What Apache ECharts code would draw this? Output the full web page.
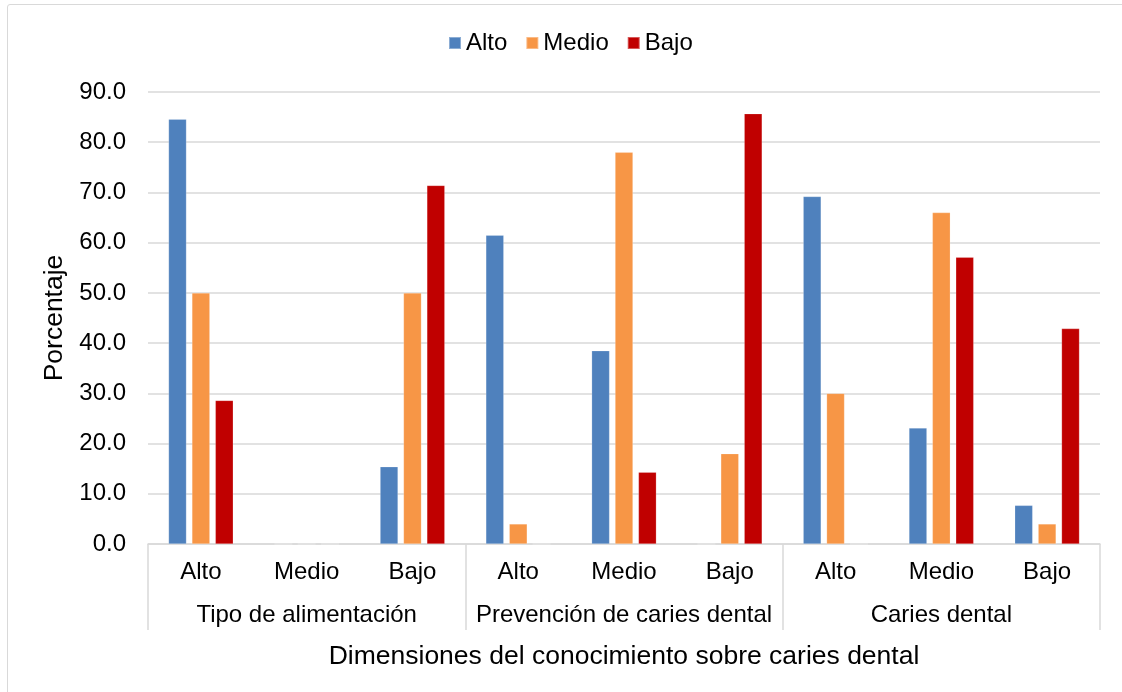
<!DOCTYPE html>
<html>
<head>
<meta charset="utf-8">
<script src="https://cdn.jsdelivr.net/npm/echarts@6/dist/echarts.min.js"></script>
<style>
  html, body { margin: 0; padding: 0; background: #ffffff; }
  #frame {
    position: absolute; left: 7px; top: 4px; width: 1130px; height: 700px;
    border: 1.5px solid #d9d9d9; border-radius: 3px; box-sizing: border-box;
  }
  #chart { position: absolute; left: 0; top: 0; width: 1122px; height: 692px; }
</style>
</head>
<body>
<div id="frame"></div>
<div id="chart"></div>
<script>
// Knowledge level (sub-category) inside each dimension
const levels = ['Alto', 'Medio', 'Bajo'];
// Dimensions of knowledge about dental caries
const dimensions = ['Tipo de alimentación', 'Prevención de caries dental', 'Caries dental'];
// Flattened category axis: levels repeated per dimension
const categories = [
  'Alto', 'Medio', 'Bajo',
  'Alto', 'Medio', 'Bajo',
  'Alto', 'Medio', 'Bajo'
];
// Percentages per series (one value per category)
const altoValues  = [84.6, 0, 15.4, 61.5, 38.5, 0, 69.2, 23.1, 7.7];
const medioValues = [50.0, 0, 50.0, 4.0, 78.0, 18.0, 30.0, 66.0, 4.0];
const bajoValues  = [28.6, 0, 71.4, 0, 14.3, 85.7, 0, 57.1, 42.9];
// Value axis ticks
const yMin = 0, yMax = 90, yStep = 10;

const FONT = "'Liberation Sans', Arial, sans-serif";
const GRID_COLOR = '#d9d9d9';
const LABEL_SIZE = 24;
const TITLE_SIZE = 26.5;

const chart = echarts.init(document.getElementById('chart'), null, { renderer: 'canvas' });

function barSeries(name, data, color) {
  return {
    name: name,
    type: 'bar',
    data: data,
    barWidth: 18,
    barGap: '30%',
    itemStyle: { color: color, borderColor: 'rgba(255,255,255,0.35)', borderWidth: 0.6 }
  };
}

chart.setOption({
  backgroundColor: 'transparent',
  textStyle: { fontFamily: FONT },
  legend: {
    top: 26,
    left: 443,
    itemWidth: 12,
    itemHeight: 12,
    itemGap: 18,
    icon: 'rect',
    textStyle: { fontFamily: FONT, fontSize: LABEL_SIZE, color: '#000000' },
    data: levels
  },
  grid: { left: 148, right: 22, top: 92, bottom: 148, containLabel: false },
  xAxis: [
    {
      type: 'category',
      position: 'bottom',
      data: categories,
      axisLine: { show: true, lineStyle: { color: GRID_COLOR, width: 1.5 } },
      axisTick: { show: false },
      axisLabel: { interval: 0, margin: 16, fontFamily: FONT, fontSize: LABEL_SIZE, color: '#000000' },
      name: 'Dimensiones del conocimiento sobre caries dental',
      nameLocation: 'middle',
      nameGap: 99,
      nameTextStyle: { fontFamily: FONT, fontSize: TITLE_SIZE, color: '#000000' }
    },
    {
      type: 'category',
      position: 'bottom',
      offset: 0,
      data: dimensions,
      axisLine: { show: false },
      axisTick: { show: true, interval: 0, length: 86, lineStyle: { color: GRID_COLOR, width: 1.5 } },
      axisLabel: { interval: 0, margin: 59, fontFamily: FONT, fontSize: LABEL_SIZE, color: '#000000' }
    }
  ],
  yAxis: {
    type: 'value',
    min: yMin,
    max: yMax,
    interval: yStep,
    axisLine: { show: false },
    axisTick: { show: false },
    splitLine: { show: true, lineStyle: { color: GRID_COLOR, width: 1.5 } },
    axisLabel: {
      margin: 22,
      fontFamily: FONT,
      fontSize: LABEL_SIZE,
      color: '#000000',
      formatter: function (v) { return v.toFixed(1); }
    },
    name: 'Porcentaje',
    nameLocation: 'middle',
    nameGap: 78,
    nameTextStyle: { fontFamily: FONT, fontSize: TITLE_SIZE, color: '#000000' }
  },
  series: [
    barSeries('Alto', altoValues, '#4F81BD'),
    barSeries('Medio', medioValues, '#F79646'),
    barSeries('Bajo', bajoValues, '#C00000')
  ]
});
</script>
</body>
</html>
